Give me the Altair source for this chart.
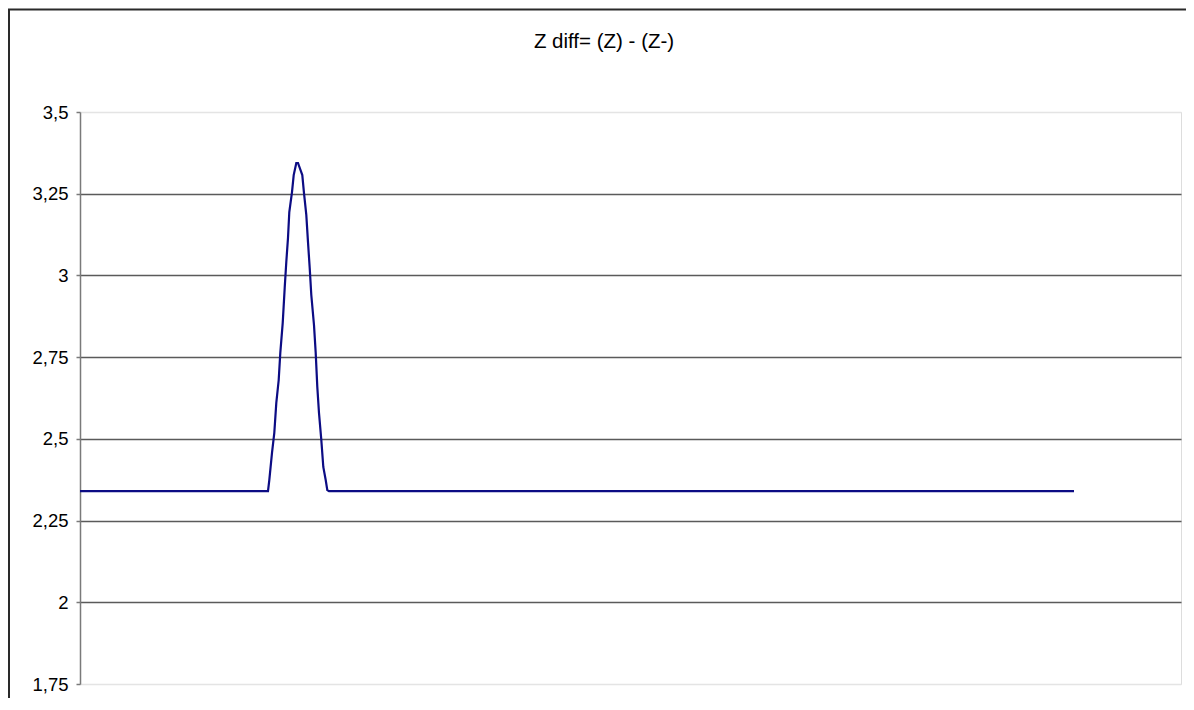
import altair as alt
import pandas as pd

# Sample position (horizontal, arbitrary units) and Z diff values
sample = [0, 188, 189.3, 192, 194.3, 196.3, 198.7, 200.3, 202.7, 204.7, 206.3, 208,
          209.3, 212, 213.7, 216.3, 218, 222.3, 224, 226.3, 228, 229.7, 231.3, 234,
          235.7, 237.3, 239, 241.3, 243.3, 245.7, 247.3, 249, 994]
zdiff = [2.34, 2.34, 2.374, 2.457, 2.518, 2.610, 2.680, 2.763, 2.854, 2.962, 3.041, 3.115,
         3.194, 3.255, 3.307, 3.344, 3.344, 3.307, 3.252, 3.185, 3.102, 3.023, 2.940, 2.848,
         2.763, 2.659, 2.579, 2.497, 2.414, 2.374, 2.343, 2.34, 2.34]

y_ticks = [1.75, 2.0, 2.25, 2.5, 2.75, 3.0, 3.25, 3.5]
title_text = ["Z diff= (Z) - (Z-)"]

df = pd.DataFrame({"sample": sample, "zdiff": zdiff})
one = pd.DataFrame({"k": [0]})
title_df = pd.DataFrame({"title": title_text})

FONT = "Liberation Sans"

line = alt.Chart(df).mark_line(color="#0c0c84", strokeWidth=2.2).encode(
    x=alt.X("sample:Q", scale=alt.Scale(domain=[0, 1101], nice=False, zero=False), axis=None),
    y=alt.Y(
        "zdiff:Q",
        scale=alt.Scale(domain=[1.75, 3.5], nice=False, zero=False),
        axis=alt.Axis(
            values=y_ticks,
            title=None,
            labelExpr="replace(toString(datum.value), '.', ',')",
            labelFont=FONT,
            labelFontSize=18.5,
            labelColor="#000000",
            labelPadding=8,
            tickSize=4,
            tickColor="#7a7a7a",
            tickWidth=1.5,
            domainColor="#7a7a7a",
            domainWidth=1.5,
            grid=True,
            gridColor={"condition": {"test": "datum.value === 3.5 || datum.value === 1.75",
                                     "value": "#e4e4e4"},
                       "value": "#5a5a5a"},
            gridWidth=1.5,
        ),
    ),
)

title_mark = alt.Chart(title_df).mark_text(
    font=FONT, fontSize=20.5, color="#000000", align="center", baseline="alphabetic"
).encode(text="title:N", x=alt.value(524), y=alt.value(-64))

frame_top = alt.Chart(one).mark_rule(color="#2a2a2a", strokeWidth=2).encode(
    x=alt.value(-72), x2=alt.value(1200), y=alt.value(-102.5)
)
frame_left = alt.Chart(one).mark_rule(color="#2a2a2a", strokeWidth=2).encode(
    x=alt.value(-71), y=alt.value(-103), y2=alt.value(700)
)

chart = alt.layer(frame_top, frame_left, title_mark, line).properties(
    width=1101,
    height=572,
    autosize=alt.AutoSizeParams(type="none"),
    padding={"left": 72, "top": 104, "right": 5, "bottom": 14},
).configure_view(stroke=None).configure(background="#ffffff")

chart.save("out.html", embed_options={"renderer": "svg", "actions": False})
